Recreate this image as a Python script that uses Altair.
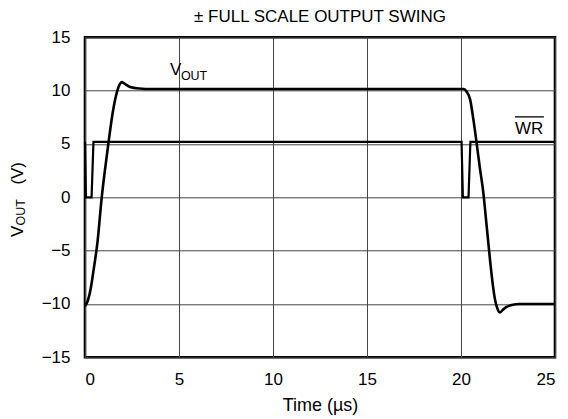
import altair as alt
import pandas as pd

# V_OUT waveform (µs, V)
vout_t = [0.0, 0.15, 0.3, 0.45, 0.67, 0.89, 1.05, 1.24, 1.48, 1.72, 1.85, 1.95, 2.1, 2.4, 2.9, 3.5, 20.15,
          20.3, 20.48, 20.65, 20.83, 21.0, 21.19, 21.36, 21.54, 21.7, 21.8, 21.95, 22.07, 22.2, 22.4, 22.7, 23.1, 23.6, 25.0]
vout_v = [-10.2, -9.7, -8.6, -6.9, -4.1, 0.0, 2.4, 5.0, 8.0, 10.0, 10.6, 10.8, 10.65, 10.35, 10.2, 10.15, 10.15,
          9.9, 9.2, 7.4, 5.1, 2.8, 0.4, -2.6, -5.8, -8.3, -9.5, -10.5, -10.8, -10.6, -10.3, -10.1, -10.0, -10.0, -10.0]

# WR signal (µs, V)
wr_t = [0.0, 0.05, 0.35, 0.45, 20.03, 20.1, 20.4, 20.5, 25.0]
wr_v = [5.2, 0.0, 0.0, 5.2, 5.2, 0.0, 0.0, 5.2, 5.2]

x_ticks = [0, 5, 10, 15, 20, 25]
y_ticks = [-15, -10, -5, 0, 5, 10, 15]

FONT = "Liberation Sans"

vout_df = pd.DataFrame({"t": vout_t, "v": vout_v, "i": range(len(vout_t))})
wr_df = pd.DataFrame({"t": wr_t, "v": wr_v, "i": range(len(wr_t))})

xs = alt.Scale(domain=[0, 25], nice=False)
ys = alt.Scale(domain=[-15, 15], nice=False)

xax = alt.Axis(values=x_ticks, title="Time (µs)", grid=True, ticks=False, domain=False,
               labelFontSize=17, titleFontSize=18, labelPadding=14, titlePadding=9,
               labelFont=FONT, titleFont=FONT, labelColor="black", titleColor="black",
               titleFontWeight="normal", gridColor="#444", gridWidth=1)
yax = alt.Axis(values=y_ticks, title=None, grid=True, ticks=False, domain=False,
               labelFontSize=17, labelPadding=15, labelFont=FONT, labelColor="black",
               gridColor="#444", gridWidth=1)

vout = alt.Chart(vout_df).mark_line(color="black", strokeWidth=2.6, interpolate="monotone").encode(
    x=alt.X("t:Q", scale=xs, axis=xax),
    y=alt.Y("v:Q", scale=ys, axis=yax),
    order="i:Q",
)
wr = alt.Chart(wr_df).mark_line(color="black", strokeWidth=2.2).encode(
    x=alt.X("t:Q", scale=xs),
    y=alt.Y("v:Q", scale=ys),
    order="i:Q",
)

lbl_df = pd.DataFrame({"t": [4.52], "v": [11.45], "s": ["V"]})
sub_df = pd.DataFrame({"t": [5.1], "v": [10.95], "s": ["OUT"]})
wr_lbl = pd.DataFrame({"t": [22.87], "v": [5.98], "s": ["WR"]})
wr_bar = pd.DataFrame({"t": [22.87], "t2": [24.41], "v": [7.54]})

v_text = alt.Chart(lbl_df).mark_text(font=FONT, fontSize=17, align="left", baseline="alphabetic", color="black").encode(
    x=alt.X("t:Q", scale=xs), y=alt.Y("v:Q", scale=ys), text="s:N")
sub_text = alt.Chart(sub_df).mark_text(font=FONT, fontSize=12.5, align="left", baseline="alphabetic", color="black").encode(
    x=alt.X("t:Q", scale=xs), y=alt.Y("v:Q", scale=ys), text="s:N")
wr_text = alt.Chart(wr_lbl).mark_text(font=FONT, fontSize=17, align="left", baseline="alphabetic", color="black").encode(
    x=alt.X("t:Q", scale=xs), y=alt.Y("v:Q", scale=ys), text="s:N")
wr_over = alt.Chart(wr_bar).mark_rule(color="black", strokeWidth=1.3).encode(
    x=alt.X("t:Q", scale=xs), x2="t2:Q", y=alt.Y("v:Q", scale=ys))

# rotated y-axis title pieces: "V", subscript "OUT", "(V)"
yt1 = alt.Chart(pd.DataFrame({"s": ["V"]})).mark_text(font=FONT, fontSize=17, angle=270, align="center",
                                                     baseline="middle", color="black").encode(
    x=alt.value(-67), y=alt.value(194), text="s:N")
yt2 = alt.Chart(pd.DataFrame({"s": ["OUT"]})).mark_text(font=FONT, fontSize=12.5, angle=270, align="center",
                                                       baseline="middle", color="black").encode(
    x=alt.value(-64), y=alt.value(175), text="s:N")
yt3 = alt.Chart(pd.DataFrame({"s": ["(V)"]})).mark_text(font=FONT, fontSize=17, angle=270, align="center",
                                                       baseline="middle", color="black").encode(
    x=alt.value(-67), y=alt.value(136), text="s:N")

chart = alt.layer(vout, wr, v_text, sub_text, wr_text, wr_over, yt1, yt2, yt3).properties(
    width=470, height=320,
    title=alt.TitleParams("± FULL SCALE OUTPUT SWING", font=FONT, fontSize=17, fontWeight="normal",
                          color="black", anchor="middle", frame="group", offset=2),
    autosize=alt.AutoSizeParams(type="none"),
    padding={"left": 77, "top": 29.3, "right": 5, "bottom": 62},
).configure_view(stroke="black", strokeWidth=2.6)

chart.save("out.html", embed_options={"renderer": "svg", "actions": False})
